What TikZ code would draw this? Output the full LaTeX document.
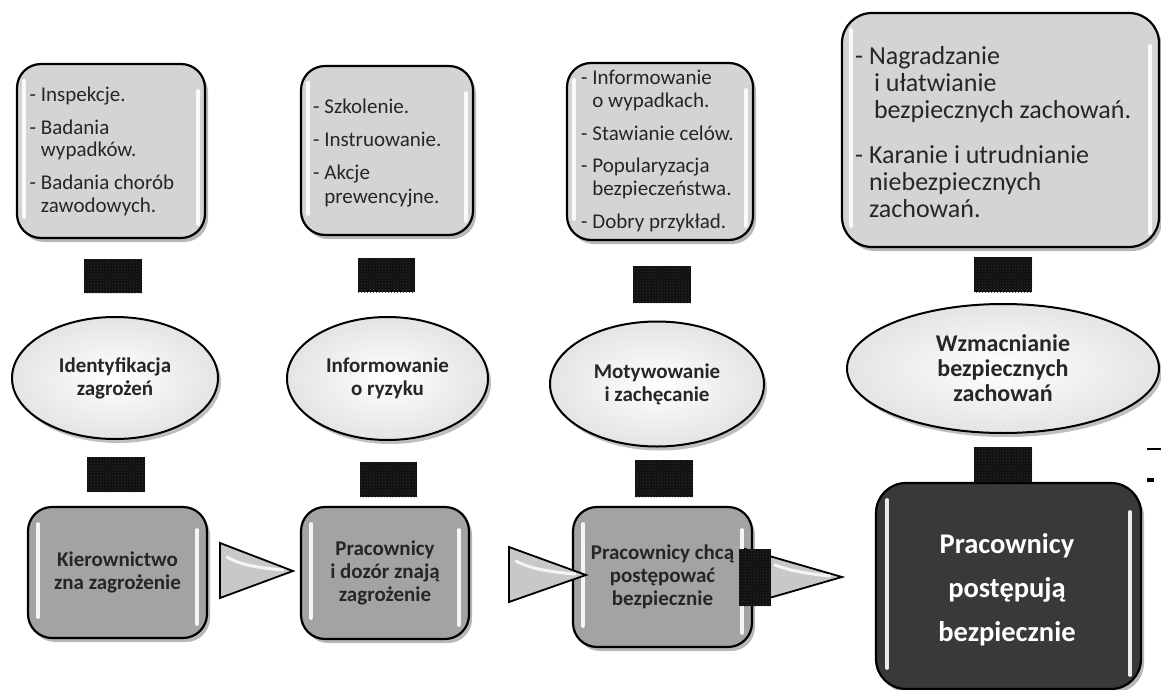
\documentclass[tikz,border=0pt]{standalone}
\usepackage{fontspec}
\setmainfont{Carlito}
\usetikzlibrary{shapes.geometric,shadows,patterns}
\definecolor{txt}{HTML}{262626}
\definecolor{lightbox}{HTML}{D4D4D4}
\definecolor{midbox}{HTML}{A3A3A3}
\definecolor{darkbox}{HTML}{393939}
\definecolor{ellouter}{HTML}{E4E4E4}
\definecolor{trifill}{HTML}{C8C8C8}
\definecolor{noise}{HTML}{2A3A2A}
\newcommand\glossmark[3]{%
  \draw[white,line width=3.5pt,line cap=round,opacity=0.9]
    ([xshift=#2,yshift=-18pt]#1.north west) -- ([xshift=#2,yshift=22pt]#1.south west);
  \draw[white,line width=3.5pt,line cap=round,opacity=0.9]
    ([xshift=-#2,yshift=-#3]#1.north east) -- ([xshift=-#2,yshift=15pt]#1.south east);}
\tikzset{
  gbox/.style={rectangle, rounded corners=24pt, draw=black, line width=2.2pt, inner sep=0pt,
    drop shadow={shadow xshift=3pt, shadow yshift=-4pt, opacity=0.28, fill=black}},
  topbox/.style={gbox, fill=lightbox},
  botbox/.style={gbox, fill=midbox, text=txt, align=center,
    font=\bfseries\fontsize{21}{23}\selectfont},
  finalbox/.style={gbox, rounded corners=30pt, fill=darkbox, text=white, align=center,
    font=\bfseries\fontsize{28.5}{44}\selectfont},
  toptxt/.style={anchor=west, inner sep=0pt, align=left, text=txt},
  ellnode/.style={ellipse, draw=black, line width=2pt, inner sep=0pt, align=center, text=txt,
    inner color=white, outer color=ellouter,
    font=\bfseries\fontsize{21}{23}\selectfont,
    drop shadow={shadow xshift=3pt, shadow yshift=-4pt, opacity=0.25, fill=black}},
  darkimg/.style={rectangle, inner sep=0pt, draw=none, fill=black!94,
    postaction={pattern=crosshatch dots, pattern color=noise}},
  tri/.style={draw=black, line width=1.8pt, fill=trifill, line join=miter},
  trishine/.style={white, line width=3pt, line cap=round, opacity=0.8}
}
\begin{document}
\begin{tikzpicture}[x=1pt,y=-1pt]
\fill[white] (0,0) rectangle (1161,690);
\useasboundingbox (0,0) rectangle (1161,690);

% ---------- top boxes ----------
\node[topbox, minimum width=188pt, minimum height=174pt] (b1) at (111,151) {};
\node[topbox, minimum width=172pt, minimum height=169pt] (b2) at (387,150.5) {};
\node[topbox, minimum width=186pt, minimum height=177pt] (b3) at (660,151.5) {};
\node[topbox, rounded corners=30pt, minimum width=317pt, minimum height=234pt] (b4) at (1000.5,130) {};
\glossmark{b1}{8pt}{28pt}
\glossmark{b2}{8pt}{28pt}
\glossmark{b3}{8pt}{28pt}
\glossmark{b4}{10pt}{34pt}

\node[toptxt, font=\fontsize{21}{22.5}\selectfont] (t1) at (29.5,151)
  {- Inspekcje.\\[10.5pt]- Badania\\\phantom{- }wypadków.\\[10.5pt]- Badania chorób\\\phantom{- }zawodowych.};
\node[toptxt, font=\fontsize{21}{24}\selectfont] (t2) at (313,153)
  {- Szkolenie.\\[9pt]- Instruowanie.\\[9pt]- Akcje\\\phantom{- }prewencyjne.};
\node[toptxt, font=\fontsize{21}{23}\selectfont] (t3) at (581,151)
  {- Informowanie\\\phantom{- }o wypadkach.\\[9.5pt]- Stawianie celów.\\[9.5pt]- Popularyzacja\\\phantom{- }bezpieczeństwa.\\[9.5pt]- Dobry przykład.};
\node[toptxt, font=\fontsize{26}{27}\selectfont] (t4) at (855,132)
  {- Nagradzanie\\\phantom{- }\hspace{5pt}i ułatwianie\\\phantom{- }\hspace{5pt}bezpiecznych zachowań.\\[18pt]- Karanie i utrudnianie\\\phantom{- }niebezpiecznych\\\phantom{- }zachowań.};

% ---------- ellipses ----------
\node[ellnode, minimum width=206pt, minimum height=122pt] (e1) at (115,378) {Identyfikacja\\zagrożeń};
\node[ellnode, minimum width=201pt, minimum height=123pt] (e2) at (387.5,378.5) {Informowanie\\o ryzyku};
\node[ellnode, minimum width=214pt, minimum height=125pt] (e3) at (657,384) {Motywowanie\\i zachęcanie};
\node[ellnode, minimum width=312pt, minimum height=129pt, font=\bfseries\fontsize{24}{25}\selectfont] (e4) at (1003,368.5) {Wzmacnianie\\bezpiecznych\\zachowań};

% ---------- bottom boxes ----------
\node[botbox, minimum width=179pt, minimum height=131pt] (k1) at (117.5,572.5) {Kierownictwo\\zna zagrożenie};
\node[botbox, minimum width=168pt, minimum height=132pt] (k2) at (385,573) {Pracownicy\\i dozór znają\\zagrożenie};
\node[botbox, minimum width=179pt, minimum height=140pt] (k3) at (662.5,577) {Pracownicy chcą\\postępować\\bezpiecznie};
\node[finalbox, minimum width=265pt, minimum height=206pt] (k4) at (1008.5,586) {};
\node[text=white, align=center, inner sep=0pt, font=\bfseries\fontsize{28.5}{44}\selectfont] (k4t) at (1007,589.5) {Pracownicy\\postępują\\bezpiecznie};
\glossmark{k1}{11pt}{24pt}
\glossmark{k2}{11pt}{24pt}
\glossmark{k3}{11pt}{24pt}
\glossmark{k4}{12pt}{30pt}

% ---------- arrow triangles between bottom boxes ----------
\coordinate (a1) at (220,543); \coordinate (a1b) at (220,598); \coordinate (a1t) at (293,571);
\coordinate (a2) at (509,547); \coordinate (a2b) at (509,602); \coordinate (a2t) at (586,575);
\coordinate (a3) at (745,549); \coordinate (a3b) at (745,605); \coordinate (a3t) at (842,577);
\draw[tri] (a1) -- (a1t) -- (a1b) -- cycle;
\draw[tri] (a2) -- (a2t) -- (a2b) -- cycle;
\draw[tri] (a3) -- (a3t) -- (a3b) -- cycle;
\draw[trishine] (227,557) .. controls (240,565) and (260,568) .. (283,570);
\draw[trishine] (516,561) .. controls (530,569) and (552,572) .. (575,574);
\draw[trishine] (775,565) .. controls (790,571) and (810,574) .. (830,576);

% ---------- broken image placeholders ----------
\node[darkimg, minimum width=58pt, minimum height=34pt] (d1) at (113,276) {};
\node[darkimg, minimum width=57pt, minimum height=34pt] (d2) at (386.5,275) {};
\node[darkimg, minimum width=58pt, minimum height=37pt] (d3) at (662,284.5) {};
\node[darkimg, minimum width=58pt, minimum height=35pt] (d4) at (1003,274.5) {};
\node[darkimg, minimum width=58pt, minimum height=35pt] (f1) at (116,474.5) {};
\node[darkimg, minimum width=57pt, minimum height=35pt] (f2) at (388.5,479.5) {};
\node[darkimg, minimum width=58pt, minimum height=37pt] (f3) at (664,478.5) {};
\node[darkimg, minimum width=58pt, minimum height=35pt] (f4) at (1003,464.5) {};
\node[darkimg, minimum width=32pt, minimum height=57pt] (g3) at (755,577.5) {};

% ---------- stray marks at the right edge ----------
\draw[line width=2pt] (1147,449) -- (1161,449);
\fill (1147,478) rectangle (1154,481.5);
\end{tikzpicture}
\end{document}
